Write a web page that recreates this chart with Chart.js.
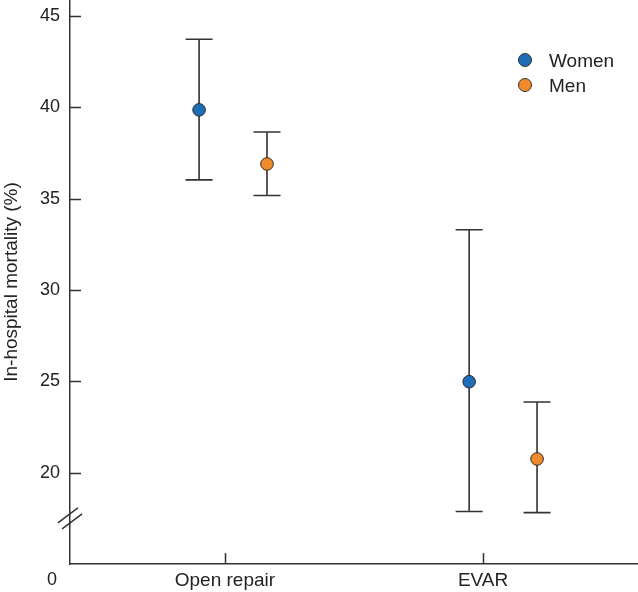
<!DOCTYPE html>
<html>
<head>
<meta charset="utf-8">
<script src="https://cdn.jsdelivr.net/npm/chart.js@4"></script>
<style>
  body { margin: 0; background: #fff; }
  #wrap { position: relative; width: 638px; height: 592px; }
  #legend { position: absolute; left: 518px; top: 48px; font: 19px "Liberation Sans", Arial, sans-serif; color: #222; }
  #legend div { height: 25px; line-height: 25px; white-space: nowrap; }
  #legend span.dot { display: inline-block; width: 12px; height: 12px; border-radius: 50%; border: 1px solid #333; vertical-align: middle; margin: -3px 17px 0 0; }
</style>
</head>
<body>
<div id="wrap">
  <canvas id="chart" width="638" height="592"></canvas>
  <div id="legend"></div>
</div>
<script>
// groups on the x axis
var groups = ['Open repair', 'EVAR'];
var groupPos = [1, 2];

// x position of each marker (in group units, slightly dodged)
var womenX = [0.90, 1.946];
var menX = [1.163, 2.209];

// in-hospital mortality (%) with 95% CI
var womenMean = [39.86, 24.98];
var womenLow = [36.03, 17.87];
var womenHigh = [43.73, 33.3];

var menMean = [36.9, 20.75];
var menLow = [35.17, 17.81];
var menHigh = [38.65, 23.87];

var yTicks = [20, 25, 30, 35, 40, 45];
var yBreak = 17.5;

var axisColor = '#333';
var textColor = '#222';

Chart.defaults.font.family = '"Liberation Sans", Arial, sans-serif';
Chart.defaults.color = textColor;

function makePoints(xs, mean, lo, hi) {
    return xs.map(function (x, i) {
        return { x: x, y: mean[i], lo: lo[i], hi: hi[i] };
    });
}

// whiskers drawn under the points
var errorBars = {
    id: 'errorBars',
    beforeDatasetsDraw: function (chart) {
        var ctx = chart.ctx;
        var xs = chart.scales.x, ys = chart.scales.y;
        ctx.save();
        ctx.strokeStyle = axisColor;
        ctx.lineWidth = 1.6;
        chart.data.datasets.forEach(function (ds) {
            ds.data.forEach(function (p) {
                var px = xs.getPixelForValue(p.x);
                var top = ys.getPixelForValue(p.hi);
                var bot = ys.getPixelForValue(p.lo);
                ctx.beginPath();
                ctx.moveTo(px, top); ctx.lineTo(px, bot);
                ctx.moveTo(px - 13.5, top); ctx.lineTo(px + 13.5, top);
                ctx.moveTo(px - 13.5, bot); ctx.lineTo(px + 13.5, bot);
                ctx.stroke();
            });
        });
        ctx.restore();
    }
};

// inward tick marks, axis break and the "0" label
var axisExtras = {
    id: 'axisExtras',
    afterDraw: function (chart) {
        var ctx = chart.ctx;
        var xs = chart.scales.x, ys = chart.scales.y;
        var area = chart.chartArea;
        ctx.save();
        ctx.strokeStyle = axisColor;
        ctx.lineWidth = 1.5;
        ctx.beginPath();
        ys.ticks.forEach(function (t) {
            var py = Math.round(ys.getPixelForValue(t.value)) + 0.5;
            ctx.moveTo(area.left, py); ctx.lineTo(area.left + 11, py);
        });
        xs.ticks.forEach(function (t) {
            var px = Math.round(xs.getPixelForValue(t.value)) + 0.5;
            ctx.moveTo(px, area.bottom); ctx.lineTo(px, area.bottom - 11);
        });
        ctx.stroke();

        var by = ys.getPixelForValue(yBreak);
        ctx.beginPath();
        [-3, 3].forEach(function (o) {
            ctx.moveTo(area.left - 10 + o * 0.7, by + 7.5 + o);
            ctx.lineTo(area.left + 10 + o * 0.7, by - 7.5 + o);
        });
        ctx.stroke();

        ctx.fillStyle = textColor;
        ctx.font = '18px "Liberation Sans", Arial, sans-serif';
        ctx.textAlign = 'center';
        ctx.textBaseline = 'middle';
        ctx.fillText('0', area.left - 18, area.bottom + 16);
        ctx.restore();
    }
};

var config = {
    type: 'scatter',
    data: {
        datasets: [{
            label: 'Women',
            data: makePoints(womenX, womenMean, womenLow, womenHigh),
            backgroundColor: '#1f6cb8',
            borderColor: '#2a2a2a',
            borderWidth: 1,
            pointRadius: 6.3,
            pointHoverRadius: 6.3
        }, {
            label: 'Men',
            data: makePoints(menX, menMean, menLow, menHigh),
            backgroundColor: '#f08a2a',
            borderColor: '#2a2a2a',
            borderWidth: 1,
            pointRadius: 6.3,
            pointHoverRadius: 6.3
        }]
    },
    options: {
        responsive: false,
        animation: false,
        devicePixelRatio: 1,
        layout: { padding: 0, autoPadding: false },
        plugins: {
            legend: { display: false },
            tooltip: { enabled: false }
        },
        scales: {
            x: {
                type: 'linear',
                min: 0.4,
                max: 2.6,
                grid: { display: true, drawOnChartArea: false, drawTicks: false },
                border: { display: true, color: axisColor, width: 1.5 },
                ticks: {
                    padding: 5,
                    font: { size: 19 },
                    color: textColor,
                    callback: function (v) {
                        var i = groupPos.indexOf(v);
                        return i >= 0 ? groups[i] : '';
                    }
                },
                afterBuildTicks: function (scale) {
                    scale.ticks = groupPos.map(function (v) { return { value: v }; });
                },
                afterFit: function (scale) {
                    scale.paddingLeft = 0;
                    scale.paddingRight = 0;
                    scale.height = 28;
                }
            },
            y: {
                min: 15,
                max: 45.875,
                grid: { display: true, drawOnChartArea: false, drawTicks: false },
                border: { display: true, color: axisColor, width: 1.5 },
                ticks: {
                    padding: 10,
                    font: { size: 18 },
                    color: textColor
                },
                title: {
                    display: true,
                    text: 'In-hospital mortality (%)',
                    font: { size: 19 },
                    color: textColor,
                    padding: { top: 0, bottom: 0 }
                },
                afterBuildTicks: function (scale) {
                    scale.ticks = yTicks.map(function (v) { return { value: v }; });
                },
                afterFit: function (scale) {
                    scale.width = 70;
                    scale.paddingTop = 0;
                    scale.paddingBottom = 0;
                }
            }
        }
    },
    plugins: [errorBars, axisExtras]
};

window.onload = function () {
    var ctx = document.getElementById('chart').getContext('2d');
    window.myChart = new Chart(ctx, config);

    var legend = document.getElementById('legend');
    config.data.datasets.forEach(function (ds) {
        var row = document.createElement('div');
        var dot = document.createElement('span');
        dot.className = 'dot';
        dot.style.background = ds.backgroundColor;
        row.appendChild(dot);
        row.appendChild(document.createTextNode(ds.label));
        legend.appendChild(row);
    });
};
</script>
</body>
</html>
